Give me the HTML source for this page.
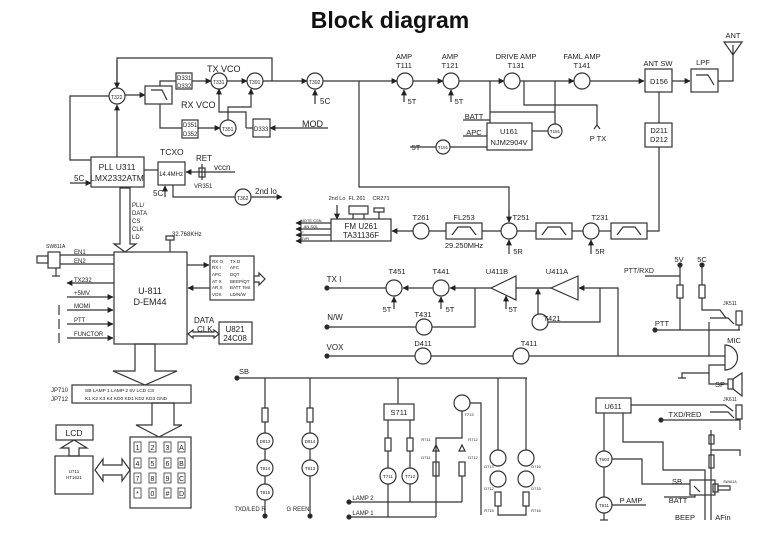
<!DOCTYPE html>
<html><head><meta charset="utf-8"><style>
html,body{margin:0;padding:0;background:#fff}
svg{display:block;font-family:"Liberation Sans",Arial,sans-serif}
text{fill:#222}
</style></head><body>
<svg width="781" height="553" viewBox="0 0 781 553" xmlns="http://www.w3.org/2000/svg">
<defs>
<marker id="a" viewBox="0 0 10 10" refX="9" refY="5" markerWidth="5" markerHeight="5" orient="auto"><path d="M0,0L10,5L0,10z" fill="#222"/></marker>
</defs>
<text x="390" y="28" font-size="23" font-weight="900" text-anchor="middle" style="fill:#111">Block diagram</text>
<g stroke="#333" stroke-width="1.2" fill="none">
<polyline points="117,88 117,58 272,58 272,81"/>
<line x1="117" y1="60" x2="117" y2="88" marker-end="url(#a)"/>
<circle cx="117" cy="96" r="8"/>
<line x1="125" y1="95" x2="145" y2="95" marker-end="url(#a)"/>
<rect x="145" y="86" width="27" height="18"/>
<polyline points="151,90 162,90 167,100"/>
<polyline points="160,86 160,81 176,81"/>
<rect x="176" y="73" width="16" height="16"/>
<line x1="192" y1="81" x2="211" y2="81" marker-end="url(#a)"/>
<circle cx="219" cy="81" r="8"/>
<line x1="227" y1="81" x2="247" y2="81" marker-end="url(#a)"/>
<circle cx="255" cy="81" r="8"/>
<line x1="263" y1="81" x2="307" y2="81" marker-end="url(#a)"/>
<circle cx="315" cy="81" r="8"/>
<line x1="315" y1="104" x2="315" y2="90" marker-end="url(#a)"/>
<line x1="323" y1="81" x2="397" y2="81" marker-end="url(#a)"/>
<polyline points="160,104 160,128 182,128"/>
<rect x="182" y="120" width="16" height="18"/>
<line x1="198" y1="128" x2="220" y2="128" marker-end="url(#a)"/>
<circle cx="228" cy="128" r="8"/>
<polyline points="228,120 228,107 251,107 251,89"/><line x1="251" y1="95" x2="251" y2="89" marker-end="url(#a)"/>
<polyline points="246,128 246,112 219,112 219,89"/><line x1="219" y1="95" x2="219" y2="89" marker-end="url(#a)"/>
<polyline points="246,128 253,128"/>
<rect x="253" y="119" width="17" height="18"/>
<line x1="328" y1="128" x2="270" y2="128" marker-end="url(#a)"/>
<polyline points="359,81 359,187 509,187 509,222"/><line x1="509" y1="210" x2="509" y2="222" marker-end="url(#a)"/>
<rect x="91" y="157" width="53" height="30"/>
<polyline points="91,160 70,160 70,96 109,96"/>
<line x1="117" y1="157" x2="117" y2="105" marker-end="url(#a)"/>
<line x1="70" y1="183" x2="91" y2="183" marker-end="url(#a)"/>
<line x1="144" y1="170" x2="158" y2="170"/>
<rect x="158" y="162" width="27" height="23"/>
<line x1="235" y1="172" x2="186" y2="172" marker-end="url(#a)"/>
<line x1="202" y1="164" x2="202" y2="180"/><rect x="199" y="168" width="6" height="9"/>
<line x1="165" y1="197" x2="165" y2="186" marker-end="url(#a)"/>
<polyline points="173,185 173,197 235,197"/>
<circle cx="243" cy="197" r="8"/>
<line x1="251" y1="197" x2="282" y2="197" marker-end="url(#a)"/>
<polygon points="120,188 130,188 130,244 136,244 125,252 114,244 120,244"/>
<rect x="166" y="236" width="8" height="4"/><line x1="170" y1="240" x2="170" y2="252"/>
<rect x="114" y="252" width="73" height="92"/>
<line x1="60" y1="255" x2="114" y2="255"/><line x1="60" y1="264" x2="114" y2="264"/>
<rect x="48" y="252" width="12" height="16"/><rect x="37" y="256" width="11" height="7"/>
<line x1="56" y1="268" x2="56" y2="276"/><line x1="52" y1="276" x2="60" y2="276"/>
<line x1="114" y1="283" x2="67" y2="283" marker-end="url(#a)"/>
<line x1="67" y1="297" x2="113" y2="297" marker-end="url(#a)"/>
<line x1="67" y1="310" x2="113" y2="310" marker-end="url(#a)"/>
<line x1="67" y1="324" x2="113" y2="324" marker-end="url(#a)"/>
<line x1="67" y1="338" x2="113" y2="338" marker-end="url(#a)"/>
<line x1="59" y1="305" x2="59" y2="315"/><line x1="59" y1="319" x2="59" y2="329"/><line x1="59" y1="333" x2="59" y2="343"/>
<rect x="210" y="256" width="44" height="44"/>
<line x1="187" y1="265" x2="209" y2="265" marker-end="url(#a)"/>
<line x1="210" y1="288" x2="188" y2="288" marker-end="url(#a)"/>
<polygon points="254,276 259,276 259,273 265,279 259,285 259,282 254,282"/>
<polygon points="188,334 193,330 193,332 214,332 214,330 219,334 214,338 214,336 193,336 193,338"/>
<rect x="219" y="322" width="33" height="22"/>
<polygon points="135,344 135,371 113,371 145,385 177,371 155,371 155,344"/>
<rect x="72" y="385" width="119" height="18"/>
<polygon points="152,403 152,425 136,425 159,437 182,425 174,425 174,403"/>
<rect x="130" y="437" width="61" height="71"/>
<rect x="56" y="425" width="37" height="15"/>
<polygon points="69,456 69,448 61,448 74,440 87,448 79,448 79,456"/>
<rect x="55" y="456" width="38" height="38"/>
<polygon points="95,470 103,459 103,465 122,465 122,459 130,470 122,481 122,475 103,475 103,481"/>
<circle cx="405" cy="81" r="8"/>
<line x1="404" y1="102" x2="404" y2="90" marker-end="url(#a)"/>
<line x1="413" y1="81" x2="443" y2="81" marker-end="url(#a)"/>
<circle cx="451" cy="81" r="8"/>
<line x1="451" y1="102" x2="451" y2="90" marker-end="url(#a)"/>
<line x1="459" y1="81" x2="504" y2="81" marker-end="url(#a)"/>
<circle cx="512" cy="81" r="8"/>
<line x1="520" y1="81" x2="574" y2="81" marker-end="url(#a)"/>
<circle cx="582" cy="81" r="8"/>
<line x1="590" y1="81" x2="644" y2="81" marker-end="url(#a)"/>
<polyline points="490,81 490,123"/><line x1="490" y1="112" x2="555" y2="112"/>
<polyline points="555,81 555,124"/>
<polyline points="524,81 524,105 597,105 597,125"/>
<rect x="487" y="123" width="45" height="27"/>
<line x1="463" y1="120" x2="490" y2="120"/><line x1="463" y1="136" x2="487" y2="136"/>
<circle cx="555" cy="131" r="7"/><line x1="532" y1="131" x2="548" y2="131"/>
<circle cx="443" cy="147" r="7"/><polyline points="410,147 436,147"/><line x1="450" y1="147" x2="487" y2="147"/>
<polyline points="594,129 597,125 600,129"/>
<rect x="645" y="69" width="27" height="23"/>
<line x1="672" y1="81" x2="690" y2="81" marker-end="url(#a)"/>
<rect x="691" y="69" width="27" height="23"/>
<polyline points="696,75 708,75 714,85"/>
<polyline points="718,81 733,81 733,45"/>
<polygon points="724,42 742,42 733,55"/>
<line x1="659" y1="92" x2="659" y2="123"/>
<rect x="645" y="123" width="27" height="24"/>
<polyline points="659,147 659,231 647,231"/>
<rect x="611" y="223" width="36" height="16"/><polyline points="617,235 623,227 635,227 641,235"/>
<circle cx="591" cy="231" r="8"/><line x1="591" y1="254" x2="591" y2="240" marker-end="url(#a)"/>
<line x1="599" y1="231" x2="611" y2="231"/><line x1="572" y1="231" x2="583" y2="231"/>
<rect x="536" y="223" width="36" height="16"/><polyline points="542,235 548,227 560,227 566,235"/>
<line x1="517" y1="231" x2="536" y2="231"/>
<circle cx="509" cy="231" r="8"/><line x1="509" y1="254" x2="509" y2="240" marker-end="url(#a)"/>
<line x1="482" y1="231" x2="501" y2="231"/>
<rect x="446" y="223" width="36" height="16"/><polyline points="452,235 458,227 470,227 476,235"/>
<line x1="429" y1="231" x2="446" y2="231"/>
<circle cx="421" cy="231" r="8"/>
<line x1="413" y1="231" x2="392" y2="231" marker-end="url(#a)"/>
<rect x="331" y="219" width="60" height="22"/>
<line x1="337" y1="205" x2="337" y2="219" marker-end="url(#a)"/>
<rect x="349" y="206" width="19" height="8"/><line x1="353" y1="214" x2="353" y2="219"/><line x1="364" y1="214" x2="364" y2="219"/>
<rect x="374" y="208" width="10" height="4"/><line x1="379" y1="212" x2="379" y2="219"/>
<line x1="331" y1="223" x2="296" y2="223" marker-end="url(#a)"/>
<line x1="331" y1="229" x2="296" y2="229" marker-end="url(#a)"/>
<line x1="331" y1="235" x2="296" y2="235" marker-end="url(#a)"/>
<line x1="331" y1="241" x2="296" y2="241" marker-end="url(#a)"/>
<circle cx="327" cy="288" r="2" fill="#222"/><circle cx="327" cy="327" r="2" fill="#222"/><circle cx="327" cy="356" r="2" fill="#222"/>
<line x1="327" y1="288" x2="386" y2="288"/>
<circle cx="394" cy="288" r="8"/>
<line x1="433" y1="288" x2="403" y2="288" marker-end="url(#a)"/>
<circle cx="441" cy="288" r="8"/>
<line x1="491" y1="288" x2="450" y2="288" marker-end="url(#a)"/>
<line x1="394" y1="309" x2="394" y2="297" marker-end="url(#a)"/>
<line x1="441" y1="309" x2="441" y2="297" marker-end="url(#a)"/>
<polygon points="491,288 516,276 516,300"/>
<line x1="506" y1="309" x2="506" y2="296" marker-end="url(#a)"/>
<line x1="516" y1="288" x2="551" y2="288"/>
<polygon points="551,288 578,276 578,300"/>
<line x1="598" y1="288" x2="579" y2="288" marker-end="url(#a)"/>
<polyline points="598,288 618,288 618,356"/>
<line x1="327" y1="327" x2="416" y2="327"/><circle cx="424" cy="327" r="8"/>
<polyline points="432,327 475,327 475,288"/>
<circle cx="540" cy="322" r="8"/>
<line x1="538" y1="314" x2="538" y2="289" marker-end="url(#a)"/>
<polyline points="548,322 600,322 600,288"/>
<line x1="327" y1="356" x2="415" y2="356"/><circle cx="423" cy="356" r="8"/>
<line x1="431" y1="356" x2="513" y2="356"/><circle cx="521" cy="356" r="8"/>
<line x1="529" y1="356" x2="725" y2="356"/>
<circle cx="680" cy="265" r="2" fill="#222"/><circle cx="702" cy="265" r="2" fill="#222"/>
<polyline points="645,276 680,276 680,265"/>
<rect x="677" y="285" width="6" height="13"/><line x1="680" y1="298" x2="680" y2="330"/><line x1="680" y1="276" x2="680" y2="285"/>
<rect x="699" y="285" width="6" height="13"/><polyline points="702,265 702,285"/><polyline points="702,298 702,310 720,310 726,318"/>
<circle cx="655" cy="330" r="2" fill="#222"/><line x1="655" y1="330" x2="740" y2="330"/>
<polyline points="710,318 728,318 734,324"/>
<rect x="736" y="311" width="6" height="14"/><polyline points="739,325 739,330"/>
<polyline points="709,322 709,356"/>
<path d="M725,345 A12,12 0 0 1 725,370 Z"/>
<polyline points="725,365 709,365 709,373 682,373 682,378"/>
<line x1="678" y1="378" x2="686" y2="378"/>
<rect x="728" y="379" width="5" height="10"/><polygon points="733,379 742,373 742,396 733,389"/>
<polyline points="728,384 709,384 709,373"/>
<rect x="596" y="398" width="35" height="15"/>
<polyline points="631,405 725,405 733,411"/>
<circle cx="661" cy="420" r="2" fill="#222"/><polyline points="661,420 740,420 740,430"/>
<polyline points="710,412 728,412 734,418"/>
<rect x="736" y="405" width="6" height="14"/>
<line x1="711" y1="430" x2="711" y2="520"/>
<rect x="709" y="435" width="5" height="9"/><polyline points="711,450 740,450 740,456"/>
<rect x="709" y="455" width="5" height="13"/>
<line x1="604" y1="413" x2="604" y2="451"/>
<circle cx="604" cy="459" r="8"/>
<polyline points="612,459 642,459 642,484 690,484"/>
<polyline points="623,413 623,442 663,442 663,470 705,470 705,520"/>
<rect x="690" y="480" width="25" height="15"/><line x1="694" y1="486" x2="700" y2="492"/>
<rect x="713" y="484" width="5" height="8"/><rect x="718" y="486" width="12" height="4"/>
<polyline points="664,497 695,497 695,495"/>
<line x1="604" y1="467" x2="604" y2="497"/>
<circle cx="604" cy="505" r="8"/><line x1="612" y1="505" x2="646" y2="505"/>
<line x1="600" y1="520" x2="608" y2="520"/><line x1="604" y1="513" x2="604" y2="520"/>
<circle cx="237" cy="378" r="2" fill="#222"/>
<line x1="237" y1="378" x2="527" y2="378"/>
<line x1="265" y1="378" x2="265" y2="408"/><rect x="262" y="408" width="6" height="14"/><line x1="265" y1="422" x2="265" y2="433"/>
<circle cx="265" cy="441" r="8"/><circle cx="265" cy="468" r="8"/><circle cx="265" cy="492" r="8"/>
<line x1="265" y1="449" x2="265" y2="460"/><line x1="265" y1="476" x2="265" y2="484"/><line x1="265" y1="500" x2="265" y2="516"/>
<circle cx="265" cy="516" r="2" fill="#222"/>
<line x1="310" y1="378" x2="310" y2="408"/><rect x="307" y="408" width="6" height="14"/><line x1="310" y1="422" x2="310" y2="433"/>
<circle cx="310" cy="441" r="8"/><circle cx="310" cy="468" r="8"/>
<line x1="310" y1="449" x2="310" y2="460"/><line x1="310" y1="476" x2="310" y2="516"/>
<circle cx="310" cy="516" r="2" fill="#222"/>
<line x1="398" y1="378" x2="398" y2="404"/><rect x="384" y="404" width="30" height="16"/>
<line x1="388" y1="420" x2="388" y2="438"/><rect x="385" y="438" width="6" height="13"/><line x1="388" y1="451" x2="388" y2="468"/>
<line x1="410" y1="420" x2="410" y2="438"/><rect x="407" y="438" width="6" height="13"/><line x1="410" y1="451" x2="410" y2="468"/>
<circle cx="388" cy="476" r="8"/><circle cx="410" cy="476" r="8"/>
<line x1="388" y1="484" x2="388" y2="517"/><line x1="410" y1="484" x2="410" y2="502"/>
<circle cx="349" cy="502" r="2" fill="#222"/><line x1="349" y1="502" x2="462" y2="502"/>
<circle cx="349" cy="517" r="2" fill="#222"/><line x1="349" y1="517" x2="436" y2="517"/>
<circle cx="462" cy="403" r="8"/><polyline points="470,403 481,403 481,515"/>
<polyline points="462,411 462,438 436,438 436,517"/>
<polygon points="433,451 439,451 436,445"/><polygon points="459,451 465,451 462,445"/>
<rect x="433" y="462" width="6" height="14"/><rect x="459" y="462" width="6" height="14"/><line x1="462" y1="476" x2="462" y2="502"/>
<line x1="498" y1="378" x2="498" y2="450"/><line x1="526" y1="378" x2="526" y2="450"/>
<circle cx="498" cy="458" r="8"/><circle cx="498" cy="479" r="8"/><circle cx="526" cy="458" r="8"/><circle cx="526" cy="479" r="8"/>
<rect x="495" y="492" width="6" height="14"/><rect x="523" y="492" width="6" height="14"/>
<polyline points="498,506 498,515 526,515 526,506"/>
</g>
<g font-size="8">
<text x="207" y="72" font-size="9">TX VCO</text><text x="181" y="108" font-size="9">RX VCO</text>
<text x="177" y="80" font-size="6">D331</text><text x="177" y="88" font-size="6">D332</text>
<text x="183" y="127" font-size="6">D351</text><text x="183" y="136" font-size="6">D352</text>
<text x="254" y="131" font-size="6">D333</text><text x="302" y="127" font-size="9">MOD</text>
<text x="111" y="99" font-size="5">T322</text><text x="213" y="84" font-size="5">T331</text><text x="249" y="84" font-size="5">T391</text><text x="309" y="84" font-size="5">T392</text><text x="222" y="131" font-size="5">T351</text><text x="237" y="200" font-size="5">T362</text>
<text x="320" y="104">5C</text>
<text x="117" y="170" font-size="8.5" text-anchor="middle">PLL U311</text><text x="117" y="181" font-size="8.5" text-anchor="middle">LMX2332ATM</text>
<text x="74" y="181">5C</text><text x="160" y="155" font-size="8.5">TCXO</text><text x="159" y="176" font-size="6">14.4MHz</text>
<text x="196" y="161">RET</text><text x="214" y="170">vccn</text><text x="194" y="188" font-size="6">VR351</text>
<text x="153" y="196">5C</text><text x="255" y="194">2nd lo</text>
<text x="132" y="207" font-size="6">PLL/</text><text x="132" y="215" font-size="6">DATA</text><text x="132" y="223" font-size="6">CS</text><text x="132" y="231" font-size="6">CLK</text><text x="132" y="239" font-size="6">LD</text>
<text x="172" y="236" font-size="6">32.768KHz</text>
<text x="46" y="248" font-size="5">SW811A</text>
<text x="74" y="254" font-size="6">EN1</text><text x="74" y="263" font-size="6">EN2</text><text x="74" y="282" font-size="6">TX232</text><text x="74" y="295" font-size="6">+5MV</text><text x="74" y="308" font-size="6">MOMI</text><text x="74" y="322" font-size="6">PTT</text><text x="74" y="336" font-size="6">FUNCTOR</text>
<text x="150" y="294" font-size="9" text-anchor="middle">U-811</text><text x="150" y="305" font-size="9" text-anchor="middle">D-EM44</text>
<text font-size="4.5"><tspan x="212" y="263">RX O</tspan><tspan x="212" y="269">RX I</tspan><tspan x="212" y="276">APC</tspan><tspan x="212" y="283">AT X</tspan><tspan x="212" y="289">AR X</tspan><tspan x="212" y="296">VOX</tspan></text>
<text font-size="4.5"><tspan x="230" y="263">TX D</tspan><tspan x="230" y="269">AFC</tspan><tspan x="230" y="276">DQT</tspan><tspan x="230" y="283">BEEP/QT</tspan><tspan x="230" y="289">BATT Test</tspan><tspan x="230" y="296">LD/N/W</tspan></text>
<text x="194" y="323" font-size="8">DATA</text><text x="197" y="332" font-size="8">CLK</text>
<text x="235" y="332" text-anchor="middle">U821</text><text x="235" y="341" text-anchor="middle">24C08</text>
<text x="51" y="392" font-size="6">JP710</text><text x="51" y="401" font-size="6">JP712</text>
<text x="85" y="392" font-size="4.8">SB   LAMP 1    LAMP 2    5V    LCD CS</text>
<text x="85" y="400" font-size="4.8">K1 K2 K3 K4  KD0 KD1 KD2 KD3   GND</text>
<text x="74" y="436" font-size="8.5" text-anchor="middle">LCD</text>
<text x="74" y="473" font-size="4.5" text-anchor="middle">U711</text><text x="74" y="479" font-size="4.5" text-anchor="middle">HT1621</text>
</g>
<g font-size="7" text-anchor="middle" stroke="#333" stroke-width="0.8" fill="none">
<rect x="134" y="442" width="7" height="10"/><rect x="149" y="442" width="7" height="10"/><rect x="164" y="442" width="7" height="10"/><rect x="178" y="442" width="7" height="10"/>
<rect x="134" y="458" width="7" height="10"/><rect x="149" y="458" width="7" height="10"/><rect x="164" y="458" width="7" height="10"/><rect x="178" y="458" width="7" height="10"/>
<rect x="134" y="473" width="7" height="10"/><rect x="149" y="473" width="7" height="10"/><rect x="164" y="473" width="7" height="10"/><rect x="178" y="473" width="7" height="10"/>
<rect x="134" y="488" width="7" height="10"/><rect x="149" y="488" width="7" height="10"/><rect x="164" y="488" width="7" height="10"/><rect x="178" y="488" width="7" height="10"/>
</g>
<g font-size="7" text-anchor="middle">
<text x="137.5" y="450">1</text><text x="152.5" y="450">2</text><text x="167.5" y="450">3</text><text x="181.5" y="450">A</text>
<text x="137.5" y="466">4</text><text x="152.5" y="466">5</text><text x="167.5" y="466">6</text><text x="181.5" y="466">B</text>
<text x="137.5" y="481">7</text><text x="152.5" y="481">8</text><text x="167.5" y="481">9</text><text x="181.5" y="481">C</text>
<text x="137.5" y="496">*</text><text x="152.5" y="496">0</text><text x="167.5" y="496">#</text><text x="181.5" y="496">D</text>
</g>
<g font-size="7.5" text-anchor="middle">
<text x="404" y="59">AMP</text><text x="404" y="68">T111</text>
<text x="450" y="59">AMP</text><text x="450" y="68">T121</text>
<text x="516" y="59">DRIVE AMP</text><text x="516" y="68">T131</text>
<text x="582" y="59">FAML  AMP</text><text x="582" y="68">T141</text>
<text x="658" y="66">ANT SW</text><text x="703" y="65">LPF</text><text x="733" y="38">ANT</text>
<text x="659" y="84">D156</text><text x="659" y="133">D211</text><text x="659" y="142">D212</text>
<text x="509" y="134">U161</text><text x="509" y="145">NJM2904V</text>
<text x="474" y="119">BATT</text><text x="474" y="135">APC</text><text x="416" y="150">5T</text>
<text x="555" y="133" font-size="4.5">T181</text><text x="443" y="149" font-size="4.5">T191</text>
<text x="598" y="141">P TX</text>
<text x="412" y="104">5T</text><text x="459" y="104">5T</text>
<text x="600" y="220">T231</text><text x="600" y="254">5R</text><text x="521" y="220">T251</text><text x="518" y="254">5R</text>
<text x="464" y="220">FL253</text><text x="464" y="248">29.250MHz</text><text x="421" y="220">T261</text>
<text x="361" y="229" font-size="8">FM U261</text><text x="361" y="238" font-size="8">TA31136F</text>
<text x="337" y="200" font-size="5.5">2nd Lo</text><text x="357" y="200" font-size="5.5">FL 261</text><text x="381" y="200" font-size="5.5">CR271</text>
<text x="311" y="222" font-size="4">MOTE CSN</text><text x="311" y="228" font-size="4">AN SQL</text><text x="302" y="234" font-size="4">IF</text><text x="304" y="240" font-size="4">+5VR</text>
<text x="397" y="274">T451</text><text x="441" y="274">T441</text><text x="497" y="274">U411B</text><text x="557" y="274">U411A</text>
<text x="387" y="312">5T</text><text x="450" y="312">5T</text><text x="513" y="312">5T</text>
<text x="423" y="317">T431</text><text x="552" y="321">T421</text>
<text x="423" y="346">D411</text><text x="529" y="346">T411</text>
<text x="334" y="282" font-size="8">TX I</text><text x="335" y="320" font-size="8">N/W</text><text x="335" y="350" font-size="8">VOX</text>
<text x="639" y="273" font-size="7">PTT/RXD</text><text x="679" y="262">5V</text><text x="702" y="262">5C</text>
<text x="730" y="305" font-size="5">JK511</text><text x="662" y="326">PTT</text>
<text x="734" y="343">MIC</text><text x="720" y="387">SP</text><text x="730" y="401" font-size="5">JK611</text>
<text x="613" y="409">U611</text><text x="685" y="417">TXD/RED</text>
<text x="604" y="461" font-size="4.5">T603</text><text x="604" y="507" font-size="4.5">T611</text>
<text x="631" y="503">P AMP</text><text x="677" y="484">SB</text><text x="678" y="503">BATT</text>
<text x="685" y="520">BEEP</text><text x="723" y="520">AFin</text><text x="730" y="483" font-size="3.5">SW611A</text>
<text x="244" y="374">SB</text>
<text x="265" y="443" font-size="4.5">D813</text><text x="265" y="470" font-size="4.5">T814</text><text x="265" y="494" font-size="4.5">T815</text>
<text x="310" y="443" font-size="4.5">D814</text><text x="310" y="470" font-size="4.5">T813</text>
<text x="250" y="511" font-size="6">TXD/LED R</text><text x="298" y="511" font-size="6">G REEN</text>
<text x="399" y="415">S711</text>
<text x="388" y="478" font-size="4.5">T711</text><text x="410" y="478" font-size="4.5">T712</text>
<text x="363" y="500" font-size="6">LAMP 2</text><text x="363" y="515" font-size="6">LAMP 1</text>
<text x="469" y="416" font-size="4">T713</text>
<text x="426" y="441" font-size="4">R711</text><text x="473" y="441" font-size="4">R712</text>
<text x="426" y="459" font-size="4">D711</text><text x="473" y="459" font-size="4">D712</text>
<text x="489" y="468" font-size="4">D713</text><text x="489" y="490" font-size="4">D712</text><text x="489" y="512" font-size="4">R715</text>
<text x="536" y="468" font-size="4">D716</text><text x="536" y="490" font-size="4">D715</text><text x="536" y="512" font-size="4">R716</text>
</g>
</svg>
</body></html>
